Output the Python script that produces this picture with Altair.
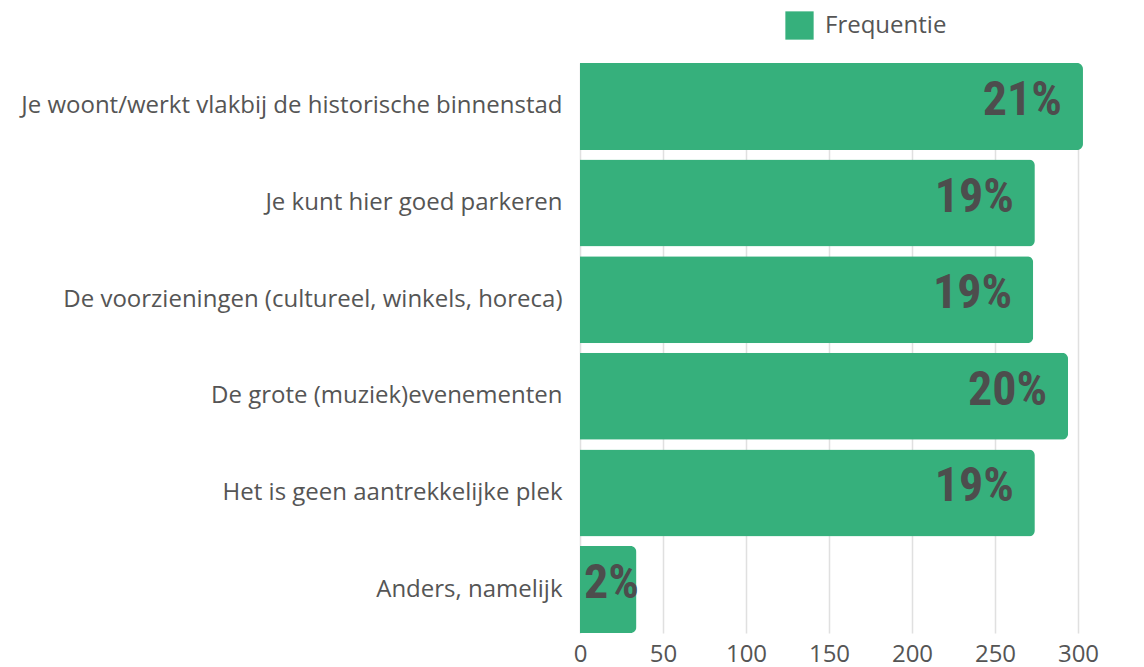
import altair as alt
import pandas as pd

categories = [
    "Je woont/werkt vlakbij de historische binnenstad",
    "Je kunt hier goed parkeren",
    "De voorzieningen (cultureel, winkels, horeca)",
    "De grote (muziek)evenementen",
    "Het is geen aantrekkelijke plek",
    "Anders, namelijk",
]
values = [303, 274, 273, 294, 274, 34]
pct_labels = ["21%", "19%", "19%", "20%", "19%", "2%"]
series = ["Frequentie"] * len(categories)

df = pd.DataFrame({"cat": categories, "val": values, "lab": pct_labels, "series": series})

GREEN = "#36b07c"
GRAY = "#555555"
PCT_FONT = "Roboto Condensed, Roboto, sans-serif"

y_enc = alt.Y(
    "cat:N",
    sort=categories,
    title=None,
    scale=alt.Scale(paddingInner=0.1, paddingOuter=0),
    axis=alt.Axis(
        labelFont="Open Sans", labelFontSize=24, labelColor=GRAY,
        labelPadding=18, ticks=False, domain=False, grid=False,
        labelLimit=700,
    ),
)

x_enc = alt.X(
    "val:Q",
    title=None,
    scale=alt.Scale(domain=[0, 350], range=[0, 581], nice=False),
    axis=alt.Axis(
        values=[0, 50, 100, 150, 200, 250, 300, 350],
        labelFont="Open Sans", labelFontSize=24, labelColor=GRAY,
        labelPadding=9, ticks=False, domain=False, labelFlush=False,
        grid=True, gridColor="#e0e0e0", gridWidth=1.5,
    ),
)

base = alt.Chart(df)

bars = base.mark_bar(
    cornerRadiusTopRight=6, cornerRadiusBottomRight=6
).encode(
    x=x_enc,
    y=y_enc,
    color=alt.Color(
        "series:N",
        scale=alt.Scale(domain=["Frequentie"], range=[GREEN]),
        legend=alt.Legend(
            title=None, orient="none", legendX=205, legendY=-52,
            symbolType="square", symbolSize=800, symbolStrokeWidth=0,
            symbolOpacity=1,
            labelFont="Open Sans", labelFontSize=24, labelColor=GRAY,
            labelOffset=11,
        ),
    ),
)

labels_big = base.transform_filter("datum.val >= 60").mark_text(
    align="right", baseline="alphabetic", dx=-21, dy=8.5,
    font=PCT_FONT, fontWeight="bold", fontSize=48, color="#4d4d4d",
).encode(
    x="val:Q",
    y=alt.Y("cat:N", sort=categories),
    text="lab:N",
)

labels_small = base.transform_filter("datum.val < 60").mark_text(
    align="left", baseline="alphabetic", dx=4, dy=8.5,
    font=PCT_FONT, fontWeight="bold", fontSize=48, color="#4d4d4d",
).encode(
    x=alt.datum(0),
    y=alt.Y("cat:N", sort=categories),
    text="lab:N",
)

chart = (bars + labels_big + labels_small).properties(
    width=556, height=570,
    autosize=alt.AutoSizeParams(type="none"),
    padding={"left": 572, "top": 55, "right": 0, "bottom": 45},
).configure_view(stroke=None)

chart.save("out.html", embed_options={"renderer": "svg", "actions": False})
